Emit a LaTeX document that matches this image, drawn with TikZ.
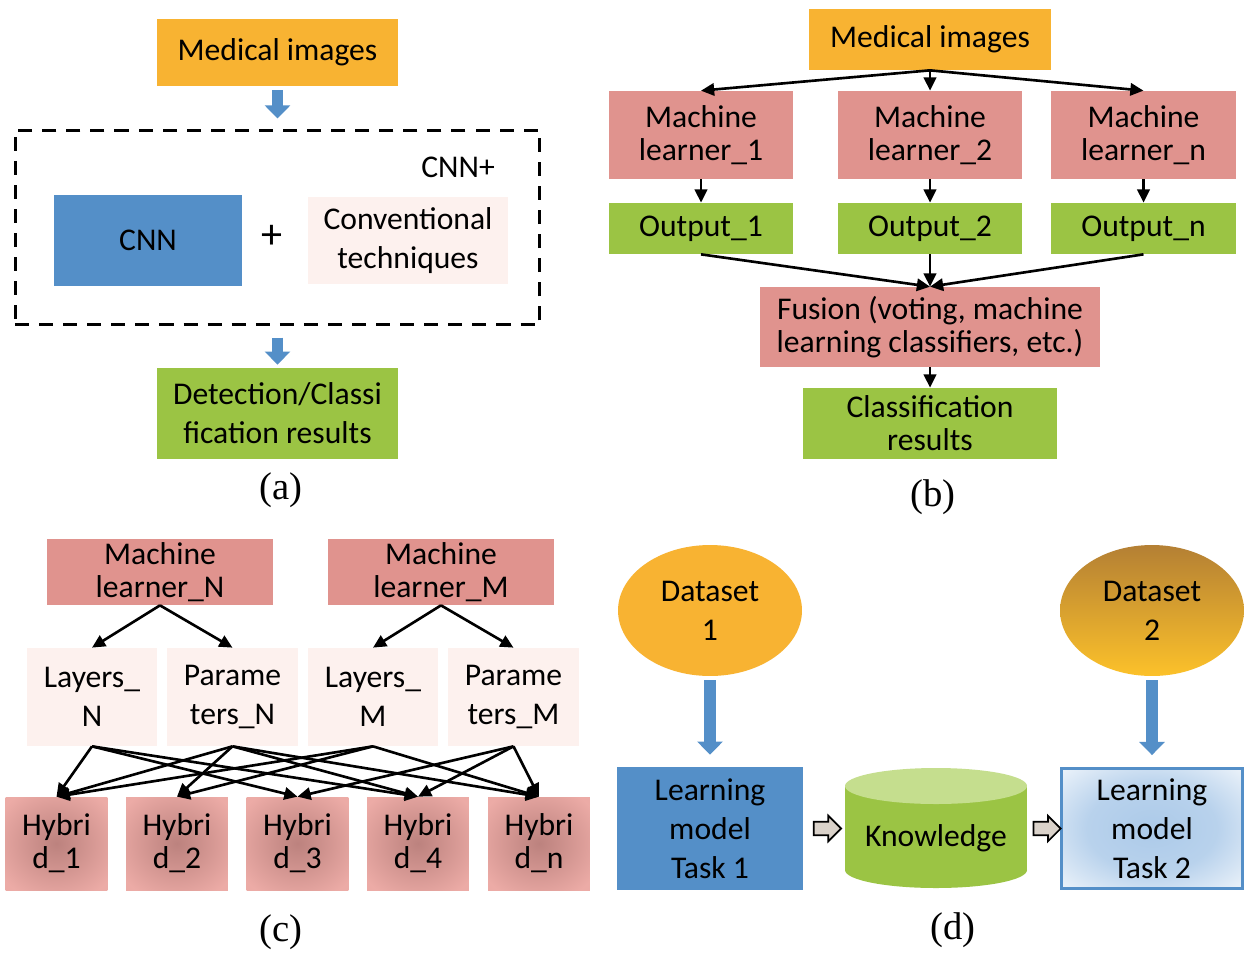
\documentclass[tikz,border=0pt]{standalone}
\usepackage{fontspec}
\setmainfont{Carlito}
\newfontfamily\capfont{Liberation Serif}
\usetikzlibrary{positioning,arrows.meta,shapes.geometric,shapes.arrows,calc}

\definecolor{medorange}{RGB}{248,179,50}
\definecolor{learnpink}{RGB}{224,147,142}
\definecolor{resgreen}{RGB}{155,196,68}
\definecolor{cnnblue}{RGB}{84,143,200}
\definecolor{palepink}{RGB}{253,241,238}
\definecolor{hybin}{RGB}{188,130,126}
\definecolor{hybout}{RGB}{236,171,166}
\definecolor{knowtop}{RGB}{197,222,142}
\definecolor{tasklight}{RGB}{172,202,233}
\definecolor{dstop}{RGB}{180,128,52}
\definecolor{dsmid}{RGB}{232,163,44}
\definecolor{dsbot}{RGB}{252,193,42}
\definecolor{hollowfill}{RGB}{218,210,202}

\pgfdeclareradialshading{taskglow}{\pgfpoint{0bp}{0bp}}{color(0bp)=(tasklight); color(18bp)=(tasklight!85!white); color(42bp)=(white); color(50bp)=(white)}
\pgfdeclareradialshading{hybridglow}{\pgfpoint{0bp}{0bp}}{color(0bp)=(hybin); color(10bp)=(hybin!70!hybout); color(32bp)=(hybout); color(50bp)=(hybout)}

\newcommand{\boxfont}{\fontsize{18pt}{18.8pt}\selectfont}
\newcommand{\wideboxfont}{\fontsize{18pt}{22.2pt}\selectfont}

\tikzset{
  box/.style={inner sep=0pt, align=center, font=\boxfont, text=black},
  widebox/.style={box, font=\wideboxfont},
  link/.style={draw=black, line width=1.5pt, -{Triangle[length=7.5pt,width=7pt]}},
  bluearrow/.style={draw=cnnblue, line width=6.8pt, -{Triangle[length=7.5pt,width=14.2pt]}},
  hollowarrow/.style={single arrow, draw=black, line width=1pt, fill=hollowfill,
    inner xsep=0pt, inner ysep=3.4pt, minimum height=15.5pt, single arrow head extend=3.4pt},
  hybridbox/.style={box, shading=hybridglow, minimum width=2.04cm, minimum height=1.86cm},
  caption/.style={font=\capfont\fontsize{22pt}{24pt}\selectfont},
}

\begin{document}
\begin{tikzpicture}[x=0.02cm,y=-0.02cm]
  \useasboundingbox[fill=white] (0,0) rectangle (1244,954);

  % (a) CNN plus conventional techniques
  \node[box, fill=medorange, minimum width=4.82cm, minimum height=1.34cm] (amed) at (277.5,52.5) {Medical images};
  \node[draw=black, line width=1.7pt, dash pattern=on 8pt off 5.7pt,
    minimum width=10.5cm, minimum height=3.9cm] (frame) at (277.5,227.5) {};
  \node[box] (cnnplus) at (458,167) {CNN+};
  \node[box, fill=cnnblue, minimum width=3.76cm, minimum height=1.82cm] (cnn) at (148,240.5) {CNN};
  \node[box, font=\fontsize{24pt}{24pt}\selectfont] (plus) at (272,237) {+};
  \node[widebox, fill=palepink, minimum width=4cm, minimum height=1.74cm] (conv) at (408,240.5) {Conventional\\techniques};
  \node[widebox, fill=resgreen, minimum width=4.82cm, minimum height=1.82cm] (ares) at (277.5,413.5) {Detection/Classi\\fication results};
  \draw[bluearrow, shorten <=2.3pt, shorten >=5.7pt] (amed) -- (frame);
  \draw[bluearrow, shorten <=6.3pt, shorten >=1.7pt] (frame) -- (ares);
  \node[caption] (capa) at (281,490) {(a)};

  % (b) fusion of several learners
  \node[box, fill=medorange, minimum width=4.84cm, minimum height=1.22cm] (bmed) at (930,39.5) {Medical images};
  \node[box, fill=learnpink, minimum width=3.68cm, minimum height=1.76cm] (ml1) at (701,135) {Machine\\learner\_1};
  \node[box, fill=learnpink, minimum width=3.68cm, minimum height=1.76cm] (ml2) at (930,135) {Machine\\learner\_2};
  \node[box, fill=learnpink, minimum width=3.7cm, minimum height=1.76cm] (mln) at (1143.5,135) {Machine\\learner\_n};
  \node[box, fill=resgreen, minimum width=3.68cm, minimum height=1.02cm] (out1) at (701,228.5) {Output\_1};
  \node[box, fill=resgreen, minimum width=3.68cm, minimum height=1.02cm] (out2) at (930,228.5) {Output\_2};
  \node[box, fill=resgreen, minimum width=3.7cm, minimum height=1.02cm] (outn) at (1143.5,228.5) {Output\_n};
  \node[box, fill=learnpink, minimum width=6.8cm, minimum height=1.6cm] (fusion) at (930,327) {Fusion (voting, machine\\learning classifiers, etc.)};
  \node[box, fill=resgreen, minimum width=5.08cm, minimum height=1.42cm] (bres) at (930,423.5) {Classification\\results};
  \draw[link] (bmed.south) -- (ml1.north);
  \draw[link] (bmed.south) -- (ml2.north);
  \draw[link] (bmed.south) -- (mln.north);
  \draw[link] (ml1) -- (out1);
  \draw[link] (ml2) -- (out2);
  \draw[link] (mln) -- (outn);
  \draw[link] (out1.south) -- (fusion.north);
  \draw[link] (out2.south) -- (fusion.north);
  \draw[link] (outn.south) -- (fusion.north);
  \draw[link] (fusion) -- (bres);
  \node[caption] (capb) at (933,497) {(b)};

  % (c) hybrids of layers and parameters
  \node[box, fill=learnpink, minimum width=4.52cm, minimum height=1.32cm] (mlN) at (160,572) {Machine\\learner\_N};
  \node[box, fill=learnpink, minimum width=4.52cm, minimum height=1.32cm] (mlM) at (441,572) {Machine\\learner\_M};
  \node[widebox, fill=palepink, minimum width=2.6cm, minimum height=1.96cm] (lyN) at (92,697) {Layers\_\\N};
  \node[widebox, fill=palepink, minimum width=2.62cm, minimum height=1.96cm] (prN) at (232.5,697) {Parame\\ters\_N};
  \node[widebox, fill=palepink, minimum width=2.6cm, minimum height=1.96cm] (lyM) at (373,697) {Layers\_\\M};
  \node[widebox, fill=palepink, minimum width=2.62cm, minimum height=1.96cm] (prM) at (513.5,697) {Parame\\ters\_M};
  \node[hybridbox] (h1) at (56.5,843.5) {Hybri\\d\_1};
  \node[hybridbox] (h2) at (177,843.5) {Hybri\\d\_2};
  \node[hybridbox] (h3) at (297.5,843.5) {Hybri\\d\_3};
  \node[hybridbox] (h4) at (418,843.5) {Hybri\\d\_4};
  \node[hybridbox] (hn) at (539,843.5) {Hybri\\d\_n};
  \draw[link] (mlN.south) -- (lyN.north);
  \draw[link] (mlN.south) -- (prN.north);
  \draw[link] (mlM.south) -- (lyM.north);
  \draw[link] (mlM.south) -- (prM.north);
  \draw[link] (lyN.south) -- (h1.north);
  \draw[link] (lyN.south) -- (h3.north);
  \draw[link] (lyN.south) -- (h4.north);
  \draw[link] (prN.south) -- (h1.north);
  \draw[link] (prN.south) -- (h2.north);
  \draw[link] (prN.south) -- (h4.north);
  \draw[link] (prN.south) -- (hn.north);
  \draw[link] (lyM.south) -- (h1.north);
  \draw[link] (lyM.south) -- (h2.north);
  \draw[link] (lyM.south) -- (hn.north);
  \draw[link] (prM.south) -- (h3.north);
  \draw[link] (prM.south) -- (h4.north);
  \draw[link] (prM.south) -- (hn.north);
  \node[caption] (capc) at (281,932) {(c)};

  % (d) transfer of knowledge between tasks
  \node[widebox, ellipse, fill=medorange, minimum width=3.68cm, minimum height=2.62cm] (ds1) at (710,610.5) {Dataset\\1};
  \node[widebox, ellipse, top color=dstop, middle color=dsmid, bottom color=dsbot,
    minimum width=3.68cm, minimum height=2.62cm] (ds2) at (1152,610.5) {Dataset\\2};
  \node[widebox, fill=cnnblue, minimum width=3.72cm, minimum height=2.46cm] (t1) at (710,828.5) {Learning\\model\\Task 1};
  \fill[resgreen] (845,786) rectangle (1027,870);
  \fill[resgreen] (936,870) ellipse [x radius=91, y radius=18];
  \fill[knowtop] (936,786) ellipse [x radius=91, y radius=18];
  \node[box, minimum width=3.64cm, minimum height=2cm] (know) at (936,838) {Knowledge};
  \node[widebox, draw=cnnblue, line width=1.7pt, shading=taskglow,
    minimum width=3.62cm, minimum height=2.4cm] (t2) at (1152,828.5) {Learning\\model\\Task 2};
  \draw[bluearrow, shorten <=2.3pt, shorten >=6.8pt] (ds1) -- (t1);
  \draw[bluearrow, shorten <=2.3pt, shorten >=6.8pt] (ds2) -- (t2);
  \node[hollowarrow] (k1) at ($(t1.east)!0.5!(t1.east -| know.west)$) {};
  \node[hollowarrow] (k2) at ($(t2.west)!0.5!(t2.west -| know.east)$) {};
  \node[caption] (capd) at (953,930) {(d)};
\end{tikzpicture}
\end{document}
